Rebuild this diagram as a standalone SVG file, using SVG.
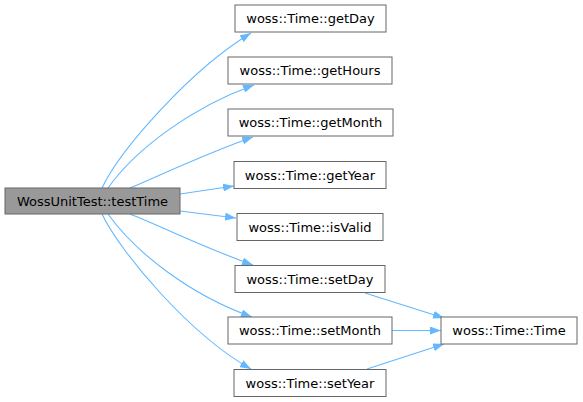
<svg xmlns="http://www.w3.org/2000/svg" width="583" height="402" viewBox="0 0 583 402">
<style>
.n rect{fill:#fff;stroke:#666;stroke-width:1}
.n text{font-family:"DejaVu Sans",sans-serif;font-size:13px;fill:#000;text-anchor:middle}
#testTime rect{fill:#999}
.e path{fill:none;stroke:#63b8ff;stroke-width:1.1;marker-end:url(#a)}
</style>
<defs>
<marker id="a" viewBox="0 0 11 8" refX="11" refY="4" markerWidth="11" markerHeight="8" orient="auto" markerUnits="userSpaceOnUse"><path d="M0,0 L11,4 L0,8 z" fill="#63b8ff" stroke="none"/></marker>
</defs>
<rect width="583" height="402" fill="#fff"/>
<g class="e" id="edges">
<path d="M102,188 C120,150 190,70 251,33"/>
<path d="M108,188 C135,150 190,108 254,85"/>
<path d="M130,188 C165,173 210,152 253,137"/>
<path d="M180,194 L234,186"/>
<path d="M180,211 L236,218"/>
<path d="M130,214 C165,228 210,250 253,265"/>
<path d="M108,214 C135,252 190,295 252,317"/>
<path d="M102,214 C120,252 190,335 251,369"/>
<path d="M365,293 L444,318"/>
<path d="M392,330.5 L441,330.5"/>
<path d="M367,369 L444,344"/>
</g>
<g class="n" id="testTime"><rect x="5" y="188" width="175" height="26"/><text x="92.5" y="205.5">WossUnitTest::testTime</text></g>
<g class="n" id="getDay"><rect x="235" y="5" width="151" height="27"/><text x="310.5" y="23">woss::Time::getDay</text></g>
<g class="n" id="getHours"><rect x="228" y="57" width="164" height="27"/><text x="310" y="75">woss::Time::getHours</text></g>
<g class="n" id="getMonth"><rect x="228" y="109" width="165" height="27"/><text x="310.5" y="127">woss::Time::getMonth</text></g>
<g class="n" id="getYear"><rect x="234" y="161.5" width="152" height="27"/><text x="310" y="179.5">woss::Time::getYear</text></g>
<g class="n" id="isValid"><rect x="237" y="213.5" width="146" height="27"/><text x="310" y="231.5">woss::Time::isValid</text></g>
<g class="n" id="setDay"><rect x="235" y="265.5" width="150" height="27"/><text x="310" y="283.5">woss::Time::setDay</text></g>
<g class="n" id="setMonth"><rect x="228" y="317" width="164" height="27"/><text x="310" y="335">woss::Time::setMonth</text></g>
<g class="n" id="setYear"><rect x="234" y="369.5" width="152" height="27"/><text x="310" y="387.5">woss::Time::setYear</text></g>
<g class="n" id="Time"><rect x="441" y="317" width="136" height="27"/><text x="509" y="335">woss::Time::Time</text></g>
</svg>
